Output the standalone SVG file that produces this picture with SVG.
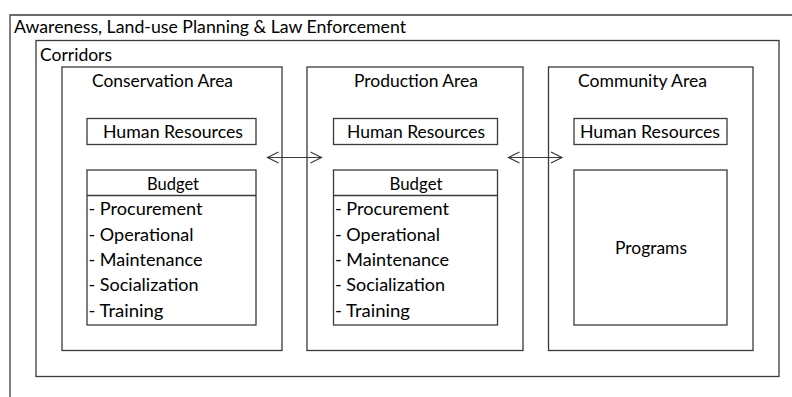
<svg xmlns="http://www.w3.org/2000/svg" width="792" height="397" viewBox="0 0 792 397">
  <style>
    .box { fill: none; stroke: #3a3a3a; stroke-width: 1.3; }
    .lbl { font-family: Lato, "Liberation Sans", Arial, sans-serif; font-size: 17.5px; fill: #000; }
    .con { fill: none; stroke: #3a3a3a; stroke-width: 1.2; }
  </style>
  <defs>
    <marker id="chev" markerUnits="userSpaceOnUse" markerWidth="16" markerHeight="16" refX="12" refY="7" orient="auto-start-reverse" viewBox="0 0 16 14">
      <polyline points="1,1.5 12,7 1,12.5" fill="none" stroke="#3a3a3a" stroke-width="1.2"/>
    </marker>
  </defs>
  <rect width="792" height="397" fill="#fff"/>

  <g id="awareness">
    <path class="box" d="M10,397 V15 H792"/>
    <text class="lbl" x="14" y="33" textLength="392" lengthAdjust="spacingAndGlyphs">Awareness, Land-use Planning &amp; Law Enforcement</text>
  </g>

  <g id="corridors">
    <rect class="box" x="36" y="40.5" width="743" height="336"/>
    <text class="lbl" x="40" y="61" textLength="72" lengthAdjust="spacingAndGlyphs">Corridors</text>
  </g>

  <g id="conservation-area">
    <rect class="box" x="62" y="67" width="220" height="283.5"/>
    <text class="lbl" x="92" y="87" textLength="141" lengthAdjust="spacingAndGlyphs">Conservation Area</text>
  </g>
  <g id="conservation-hr">
    <rect class="box" x="87" y="118.5" width="169" height="26"/>
    <text class="lbl" x="103" y="138.3" textLength="140" lengthAdjust="spacingAndGlyphs">Human Resources</text>
  </g>
  <g id="conservation-budget">
    <rect class="box" x="87" y="170" width="169" height="155"/>
    <line class="box" x1="87" y1="195.5" x2="256" y2="195.5"/>
    <text class="lbl" x="147" y="190" textLength="52" lengthAdjust="spacingAndGlyphs">Budget</text>
    <text class="lbl" x="88.5" y="215" textLength="114" lengthAdjust="spacingAndGlyphs">- Procurement</text>
    <text class="lbl" x="88.5" y="241" textLength="105" lengthAdjust="spacingAndGlyphs">- Operational</text>
    <text class="lbl" x="88.5" y="266" textLength="114" lengthAdjust="spacingAndGlyphs">- Maintenance</text>
    <text class="lbl" x="88.5" y="291" textLength="110" lengthAdjust="spacingAndGlyphs">- Socialization</text>
    <text class="lbl" x="88.5" y="316.5" textLength="75" lengthAdjust="spacingAndGlyphs">- Training</text>
  </g>

  <g id="production-area">
    <rect class="box" x="307" y="67" width="216" height="283.5"/>
    <text class="lbl" x="354" y="87" textLength="124" lengthAdjust="spacingAndGlyphs">Production Area</text>
  </g>
  <g id="production-hr">
    <rect class="box" x="333.5" y="118.5" width="164" height="26"/>
    <text class="lbl" x="347" y="138.3" textLength="138" lengthAdjust="spacingAndGlyphs">Human Resources</text>
  </g>
  <g id="production-budget">
    <rect class="box" x="333.5" y="170" width="164" height="155"/>
    <line class="box" x1="333.5" y1="195.5" x2="497.5" y2="195.5"/>
    <text class="lbl" x="389.5" y="190" textLength="53" lengthAdjust="spacingAndGlyphs">Budget</text>
    <text class="lbl" x="335" y="215" textLength="114" lengthAdjust="spacingAndGlyphs">- Procurement</text>
    <text class="lbl" x="335" y="241" textLength="105" lengthAdjust="spacingAndGlyphs">- Operational</text>
    <text class="lbl" x="335" y="266" textLength="114" lengthAdjust="spacingAndGlyphs">- Maintenance</text>
    <text class="lbl" x="335" y="291" textLength="110" lengthAdjust="spacingAndGlyphs">- Socialization</text>
    <text class="lbl" x="335" y="316.5" textLength="75" lengthAdjust="spacingAndGlyphs">- Training</text>
  </g>

  <g id="community-area">
    <rect class="box" x="548.5" y="67" width="204.5" height="283.5"/>
    <text class="lbl" x="578" y="87" textLength="129" lengthAdjust="spacingAndGlyphs">Community Area</text>
  </g>
  <g id="community-hr">
    <rect class="box" x="574" y="118.5" width="153" height="26"/>
    <text class="lbl" x="580" y="138.3" textLength="140" lengthAdjust="spacingAndGlyphs">Human Resources</text>
  </g>
  <g id="community-programs">
    <rect class="box" x="574" y="170" width="153" height="155"/>
    <text class="lbl" x="615" y="254" textLength="72" lengthAdjust="spacingAndGlyphs">Programs</text>
  </g>

  <g id="connectors">
    <line class="con" x1="267.5" y1="157.5" x2="321.5" y2="157.5" marker-start="url(#chev)" marker-end="url(#chev)"/>
    <line class="con" x1="508.5" y1="157.5" x2="562" y2="157.5" marker-start="url(#chev)" marker-end="url(#chev)"/>
  </g>
</svg>
